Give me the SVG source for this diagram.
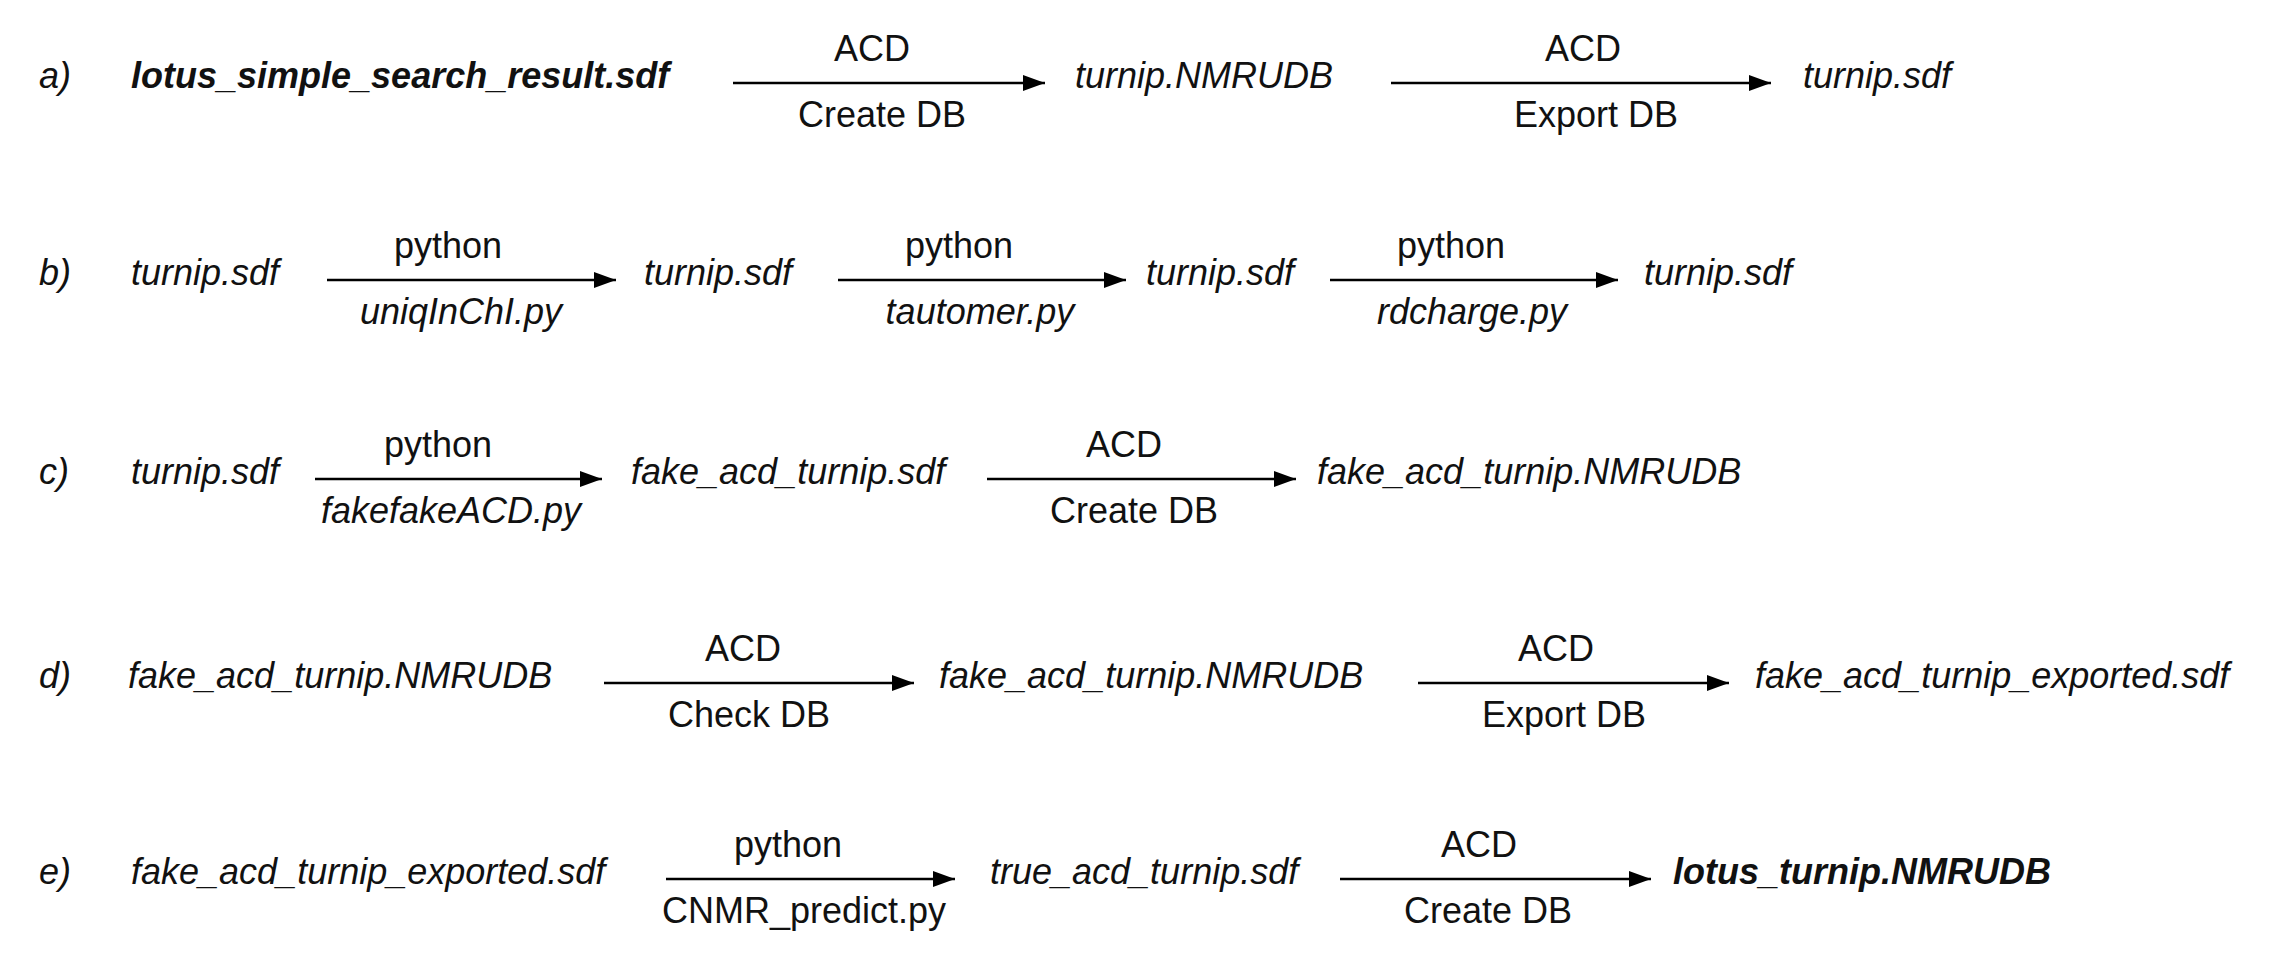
<svg xmlns="http://www.w3.org/2000/svg" width="2290" height="955" viewBox="0 0 2290 955">
<defs>
<marker id="ah" markerUnits="userSpaceOnUse" markerWidth="24" markerHeight="16" refX="22" refY="8" orient="auto"><path d="M0,0 L22,8 L0,16 Z" fill="#000"/></marker>
<style>
text{font-family:"Liberation Sans",Arial,sans-serif;font-size:36px;fill:#111}
.i{font-style:italic}
.b{font-weight:bold;font-style:italic}
.m{text-anchor:middle}
.c line{stroke:#000;stroke-width:2.5;marker-end:url(#ah)}
</style>
</defs>
<g id="labels">
<text class="i" x="39" y="88">a)</text>
<text class="i" x="39" y="285">b)</text>
<text class="i" x="39" y="484">c)</text>
<text class="i" x="39" y="688">d)</text>
<text class="i" x="39" y="884">e)</text>
</g>
<g id="rowA">
<text class="b" x="131" y="88">lotus_simple_search_result.sdf</text>
<text class="i" x="1075" y="88">turnip.NMRUDB</text>
<text class="i" x="1803" y="88">turnip.sdf</text>
<text class="m" x="872" y="61">ACD</text><text class="m" x="882" y="127">Create DB</text>
<text class="m" x="1583" y="61">ACD</text><text class="m" x="1596" y="127">Export DB</text>
</g>
<g id="rowB">
<text class="i" x="131" y="285">turnip.sdf</text>
<text class="i" x="644" y="285">turnip.sdf</text>
<text class="i" x="1146" y="285">turnip.sdf</text>
<text class="i" x="1644" y="285">turnip.sdf</text>
<text class="m" x="448" y="258">python</text><text class="m i" x="461" y="324">uniqInChI.py</text>
<text class="m" x="959" y="258">python</text><text class="m i" x="980" y="324">tautomer.py</text>
<text class="m" x="1451" y="258">python</text><text class="m i" x="1472" y="324">rdcharge.py</text>
</g>
<g id="rowC">
<text class="i" x="131" y="484">turnip.sdf</text>
<text class="i" x="631" y="484">fake_acd_turnip.sdf</text>
<text class="i" x="1317" y="484">fake_acd_turnip.NMRUDB</text>
<text class="m" x="438" y="457">python</text><text class="m i" x="451" y="523">fakefakeACD.py</text>
<text class="m" x="1124" y="457">ACD</text><text class="m" x="1134" y="523">Create DB</text>
</g>
<g id="rowD">
<text class="i" x="128" y="688">fake_acd_turnip.NMRUDB</text>
<text class="i" x="939" y="688">fake_acd_turnip.NMRUDB</text>
<text class="i" x="1755" y="688">fake_acd_turnip_exported.sdf</text>
<text class="m" x="743" y="661">ACD</text><text class="m" x="749" y="727">Check DB</text>
<text class="m" x="1556" y="661">ACD</text><text class="m" x="1564" y="727">Export DB</text>
</g>
<g id="rowE">
<text class="i" x="131" y="884">fake_acd_turnip_exported.sdf</text>
<text class="i" x="990" y="884">true_acd_turnip.sdf</text>
<text class="b" x="1673" y="884">lotus_turnip.NMRUDB</text>
<text class="m" x="788" y="857">python</text><text class="m" x="804" y="923">CNMR_predict.py</text>
<text class="m" x="1479" y="857">ACD</text><text class="m" x="1488" y="923">Create DB</text>
</g>
<g id="connectors" class="c">
<line x1="733" y1="83" x2="1045" y2="83"/>
<line x1="1391" y1="83" x2="1771" y2="83"/>
<line x1="327" y1="280" x2="616" y2="280"/>
<line x1="838" y1="280" x2="1126" y2="280"/>
<line x1="1330" y1="280" x2="1618" y2="280"/>
<line x1="315" y1="479" x2="602" y2="479"/>
<line x1="987" y1="479" x2="1296" y2="479"/>
<line x1="604" y1="683" x2="914" y2="683"/>
<line x1="1418" y1="683" x2="1729" y2="683"/>
<line x1="666" y1="879" x2="955" y2="879"/>
<line x1="1340" y1="879" x2="1651" y2="879"/>
</g>
</svg>
